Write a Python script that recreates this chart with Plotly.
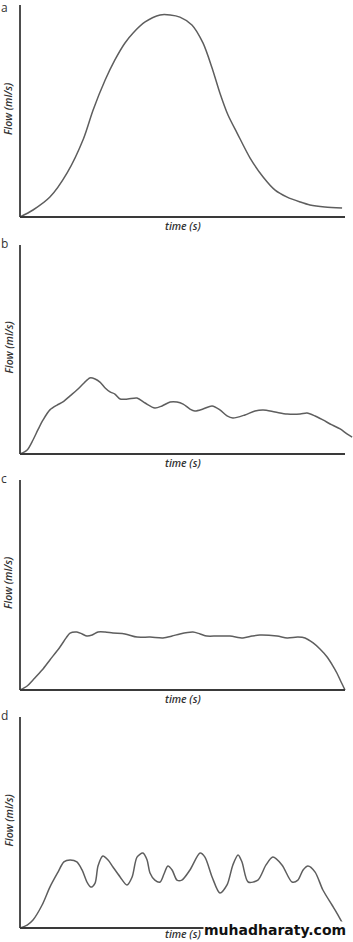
import plotly.graph_objects as go

# ---- data (time in s, flow in ml/s, arbitrary units) ----
t_a = [0, 0.40, 0.92, 1.45, 1.95, 2.25, 2.62, 2.92, 3.23, 3.48, 3.85, 4.31, 4.62, 4.92, 5.29, 5.63, 5.91,
       6.15, 6.40, 6.68, 7.08, 7.48, 7.85, 8.22, 8.62, 8.92, 9.38, 9.91]
f_a = [0, 3.3, 9.4, 20.8, 36.8, 50.5, 64.6, 74.1, 82.1, 86.8, 92.0, 95.3, 95.3, 94.3, 90.6, 82.1, 70.3,
       58.5, 48.1, 39.6, 27.8, 18.9, 12.7, 9.4, 7.1, 5.7, 4.7, 4.2]

t_b = [0, 0.22, 0.40, 0.55, 0.71, 0.92, 1.14, 1.32, 1.54, 1.75, 1.97, 2.15, 2.31, 2.46, 2.62, 2.77, 2.92,
       3.08, 3.32, 3.60, 3.85, 4.15, 4.37, 4.62, 4.83, 5.02, 5.23, 5.38, 5.63, 5.91, 6.15, 6.37, 6.55,
       6.92, 7.23, 7.48, 7.85, 8.22, 8.62, 8.83, 9.08, 9.32, 9.60, 9.85, 10.06, 10.22]
f_b = [0, 1.9, 6.7, 11.5, 16.3, 21.1, 23.4, 24.9, 27.8, 30.6, 34.0, 36.4, 35.9, 34.4, 31.6, 29.7, 28.7,
       26.3, 26.3, 26.8, 24.4, 22.0, 23.0, 24.9, 24.9, 23.9, 21.5, 20.6, 21.5, 23.0, 21.1, 18.2, 17.2,
       18.7, 20.6, 21.1, 20.1, 19.1, 19.1, 19.6, 18.2, 16.3, 13.9, 12.0, 9.6, 8.1]

t_c = [0, 0.22, 0.40, 0.68, 0.92, 1.23, 1.42, 1.54, 1.75, 1.91, 2.06, 2.22, 2.40, 2.62, 2.86, 3.23, 3.60,
       4.00, 4.40, 4.68, 4.92, 5.32, 5.54, 5.75, 6.06, 6.46, 6.86, 7.14, 7.38, 7.91, 8.22, 8.55, 8.77,
       9.02, 9.23, 9.45, 9.63, 9.75, 9.88, 10.0]
f_c = [0, 1.9, 4.8, 9.5, 14.3, 20.5, 24.8, 27.1, 27.6, 26.7, 25.7, 26.2, 27.6, 27.6, 27.1, 26.7, 25.2,
       25.2, 24.8, 25.7, 26.7, 27.6, 26.7, 25.7, 25.7, 25.7, 24.8, 25.7, 26.2, 25.7, 24.8, 25.2, 24.8,
       22.4, 19.5, 15.7, 11.4, 8.1, 3.8, 0]

t_d = [0, 0.22, 0.40, 0.68, 0.92, 1.17, 1.35, 1.54, 1.75, 1.91, 2.06, 2.18, 2.31, 2.40, 2.55, 2.71, 2.86,
       3.08, 3.29, 3.45, 3.60, 3.78, 3.91, 4.00, 4.15, 4.31, 4.43, 4.55, 4.68, 4.83, 4.98, 5.23, 5.54,
       5.69, 5.91, 6.15, 6.37, 6.55, 6.71, 6.83, 7.02, 7.32, 7.57, 7.78, 8.06, 8.37, 8.55, 8.71, 8.86,
       9.08, 9.32, 9.60, 9.75, 9.92]
f_d = [0, 1.4, 3.8, 10.9, 19.4, 26.5, 31.3, 32.2, 31.3, 27.5, 21.8, 19.4, 21.3, 29.4, 34.1, 32.2, 28.9,
       24.2, 20.4, 24.2, 33.6, 35.5, 32.2, 26.1, 22.7, 21.8, 25.6, 29.4, 27.5, 22.7, 22.7, 27.5, 35.5,
       33.6, 24.2, 16.6, 20.4, 29.9, 34.6, 31.3, 21.8, 22.7, 29.9, 33.6, 29.9, 21.8, 22.7, 27.5, 29.4,
       26.5, 18.0, 10.9, 7.1, 2.4]

panel_labels = ["a", "b", "c", "d"]
x_title = "time (s)"
y_title = "Flow (ml/s)"
watermark = "muhadharaty.com"
series = [(t_a, f_a), (t_b, f_b), (t_c, f_c), (t_d, f_d)]

# ---- layout geometry (pixels) ----
W, H = 353, 942
AX_LEFT, AX_RIGHT = 20, 345          # x=0 and x=10 s positions
TOPS = [5, 245, 480, 717]            # y=100 positions
BOTS = [217, 454, 690, 928]          # y=0 positions
LETTER_Y = [8, 243, 478, 715]
XT_OFF = [9, 9, 9, 6]
X_MAX = 10.0
Y_MAX = 100.0
YPAD = 3.0
XPAD = 0.15

pxu = (AX_RIGHT - AX_LEFT) / X_MAX
x_lo = -XPAD
x_hi = (W - AX_LEFT) / pxu
x_dom = [(AX_LEFT + x_lo * pxu) / W, 1.0]

line_col = "#5e5e5e"
axis_col = "#3a3a3a"
text_col = "#333333"

fig = go.Figure()
shapes = []
annotations = []
for i, (tt, ff) in enumerate(series):
    n = "" if i == 0 else str(i + 1)
    T, B = TOPS[i], BOTS[i]
    h = B - T
    ybot_px = B + YPAD * h / Y_MAX
    y_dom = [1 - ybot_px / H, 1 - T / H]
    fig.add_trace(go.Scatter(x=tt, y=ff, mode="lines",
                             line=dict(color=line_col, width=1.5, shape="spline", smoothing=0.8),
                             xaxis="x" + n, yaxis="y" + n, showlegend=False, hoverinfo="skip"))
    fig.update_layout(**{
        "xaxis" + n: dict(domain=x_dom, range=[x_lo, x_hi], visible=False, fixedrange=True,
                          anchor="y" + n),
        "yaxis" + n: dict(domain=y_dom, range=[-YPAD, Y_MAX], visible=False, fixedrange=True,
                          anchor="x" + n),
    })
    # axis lines
    shapes.append(dict(type="line", xref="x" + n, yref="y" + n, x0=0, x1=X_MAX, y0=0, y1=0,
                       line=dict(color=axis_col, width=1.8)))
    shapes.append(dict(type="line", xref="x" + n, yref="y" + n, x0=0, x1=0, y0=0, y1=Y_MAX,
                       line=dict(color=axis_col, width=1.8)))
    # texts
    annotations.append(dict(text=panel_labels[i], xref="paper", yref="paper",
                            x=4 / W, y=1 - LETTER_Y[i] / H, xanchor="center", yanchor="middle",
                            showarrow=False, font=dict(family="Open Sans", size=12, color=text_col)))
    annotations.append(dict(text=y_title, xref="paper", yref="paper", textangle=-90,
                            x=8 / W, y=1 - ((T + B) / 2 - 2) / H, xanchor="center", yanchor="middle",
                            showarrow=False,
                            font=dict(family="Open Sans", size=10.5, color=text_col,
                                      style="italic", weight=600)))
    annotations.append(dict(text=x_title, xref="paper", yref="paper",
                            x=(AX_LEFT + AX_RIGHT) / 2 / W, y=1 - (B + XT_OFF[i]) / H,
                            xanchor="center", yanchor="middle", showarrow=False,
                            font=dict(family="Open Sans", size=10.5, color=text_col,
                                      style="italic", weight=600)))

annotations.append(dict(text="<b>" + watermark + "</b>", xref="paper", yref="paper",
                        x=275 / W, y=1 - 930 / H, xanchor="center", yanchor="middle",
                        showarrow=False, bgcolor="white", borderpad=0,
                        font=dict(family="DejaVu Sans", size=14, color="#111111")))

fig.update_layout(width=W, height=H, margin=dict(l=0, r=0, t=0, b=0),
                  paper_bgcolor="white", plot_bgcolor="white",
                  shapes=shapes, annotations=annotations)

fig.write_html("out.html", config={"displayModeBar": False})
